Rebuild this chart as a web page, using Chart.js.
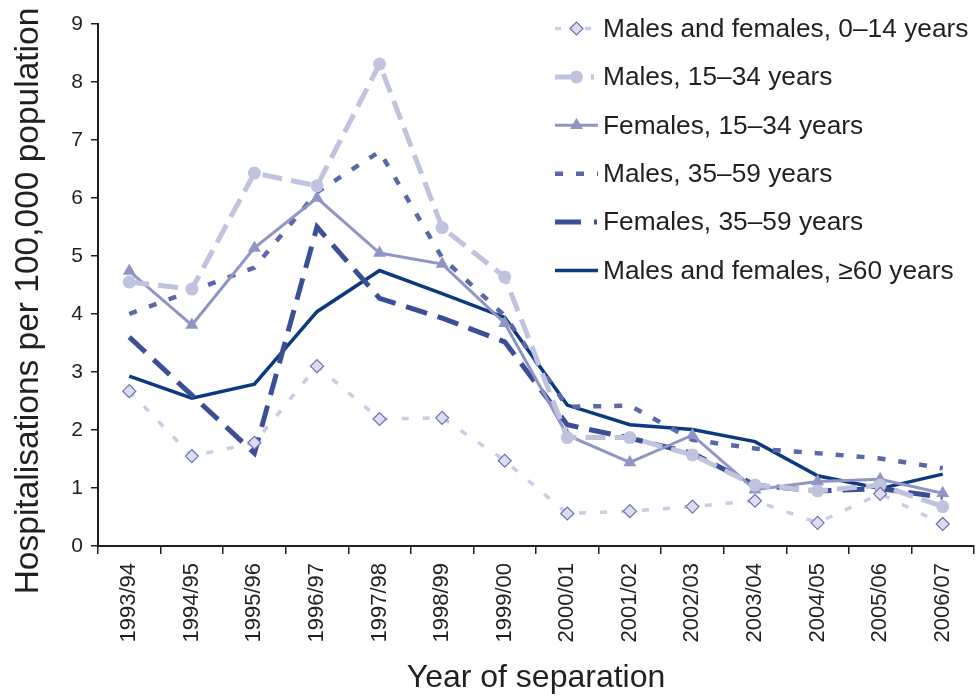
<!DOCTYPE html>
<html>
<head>
<meta charset="utf-8">
<script src="https://cdn.jsdelivr.net/npm/chart.js@4.4.1/dist/chart.umd.min.js"></script>
<style>
  html, body { margin: 0; padding: 0; background: #ffffff; }
  #wrap { width: 976px; height: 697px; position: relative; }
</style>
</head>
<body>
<div id="wrap"><canvas id="c" width="976" height="697"></canvas></div>
<script>
const categories = ['1993/94','1994/95','1995/96','1996/97','1997/98','1998/99','1999/00','2000/01','2001/02','2002/03','2003/04','2004/05','2005/06','2006/07'];
const seriesNames = ['Males and females, 0\u201314 years','Males, 15\u201334 years','Females, 15\u201334 years','Males, 35\u201359 years','Females, 35\u201359 years','Males and females, \u226560 years'];
const mf0to14  = [2.67, 1.55, 1.78, 3.10, 2.19, 2.21, 1.47, 0.56, 0.60, 0.68, 0.78, 0.40, 0.90, 0.38];
const m15to34  = [4.55, 4.43, 6.43, 6.21, 8.31, 5.49, 4.64, 1.87, 1.87, 1.57, 1.05, 0.95, 1.05, 0.68];
const f15to34  = [4.74, 3.81, 5.14, 6.00, 5.05, 4.86, 3.84, 1.91, 1.44, 1.91, 0.97, 1.11, 1.15, 0.91];
const m35to59  = [4.00, 4.40, 4.80, 6.10, 6.80, 4.97, 3.97, 2.40, 2.42, 1.83, 1.68, 1.60, 1.51, 1.34];
const f35to59  = [3.60, 2.60, 1.60, 5.50, 4.27, 3.93, 3.52, 2.09, 1.86, 1.60, 1.05, 0.95, 0.99, 0.84];
const mf60plus = [2.93, 2.55, 2.79, 4.04, 4.75, 4.35, 3.94, 2.43, 2.09, 2.01, 1.80, 1.21, 0.99, 1.24];
const yTicks = [0,1,2,3,4,5,6,7,8,9];
const yTitle = 'Hospitalisations per 100,000 population';
const xTitle = 'Year of separation';

const FONT = '"Liberation Sans", Arial, Helvetica, sans-serif';
const INK = '#231f20';

const datasets = [
  { label: seriesNames[0], data: mf0to14, borderColor: '#c9cce4', borderWidth: 3.5, borderDash: [7, 14],
    pointStyle: 'rectRot', pointRadius: 6.5, pointBackgroundColor: '#dcdeef', pointBorderColor: '#6b72b0', pointBorderWidth: 1.2,
    legendDash: [6, 9] },
  { label: seriesNames[1], data: m15to34, borderColor: '#bfc3de', borderWidth: 5, borderDash: [20, 9],
    pointStyle: 'circle', pointRadius: 6.5, pointBackgroundColor: '#bfc3de', pointBorderColor: '#bfc3de', pointBorderWidth: 0,
    legendDash: [22, 14, 3, 50] },
  { label: seriesNames[2], data: f15to34, borderColor: '#8f96c3', borderWidth: 3, borderDash: [],
    pointStyle: 'triangle', pointRadius: 7.5, pointBackgroundColor: '#8f96c3', pointBorderColor: '#8f96c3', pointBorderWidth: 0,
    legendDash: [] },
  { label: seriesNames[3], data: m35to59, borderColor: '#5b67a9', borderWidth: 4.5, borderDash: [8, 13],
    pointStyle: false, pointRadius: 0, legendDash: [8, 13] },
  { label: seriesNames[4], data: f35to59, borderColor: '#3b4f97', borderWidth: 5, borderDash: [22, 11],
    pointStyle: false, pointRadius: 0, legendDash: [26, 13, 3, 50] },
  { label: seriesNames[5], data: mf60plus, borderColor: '#0b3a7f', borderWidth: 3.5, borderDash: [],
    pointStyle: false, pointRadius: 0, legendDash: [] }
].map(d => Object.assign({ fill: false, tension: 0, borderCapStyle: 'butt', borderJoinStyle: 'miter', clip: 10 }, d));

const legendPlugin = {
  id: 'customLegend',
  afterDraw(chart) {
    const ctx = chart.ctx;
    const x0 = 555, x1 = 598, tx = 603, y0 = 28.5, dy = 48.4;
    chart.data.datasets.forEach((ds, i) => {
      const y = y0 + i * dy;
      ctx.save();
      ctx.strokeStyle = ds.borderColor;
      ctx.lineWidth = ds.borderWidth;
      ctx.setLineDash(ds.legendDash || []);
      ctx.beginPath();
      ctx.moveTo(x0, y);
      ctx.lineTo(x1, y);
      ctx.stroke();
      ctx.setLineDash([]);
      if (ds.pointStyle) {
        ctx.fillStyle = ds.pointBackgroundColor;
        ctx.strokeStyle = ds.pointBorderColor;
        ctx.lineWidth = ds.pointBorderWidth || 0;
        Chart.helpers.drawPoint(ctx, { pointStyle: ds.pointStyle, radius: ds.pointRadius, rotation: 0, borderWidth: ds.pointBorderWidth || 0 }, (x0 + x1) / 2, y);
      }
      ctx.fillStyle = INK;
      ctx.font = '26.3px ' + FONT;
      ctx.textBaseline = 'middle';
      ctx.textAlign = 'left';
      ctx.fillText(ds.label, tx, y + 1);
      ctx.restore();
    });
    // Y axis title
    ctx.save();
    ctx.fillStyle = INK;
    ctx.font = '33.5px ' + FONT;
    ctx.textAlign = 'center';
    ctx.textBaseline = 'middle';
    ctx.translate(29, 301);
    ctx.rotate(-Math.PI / 2);
    ctx.fillText(yTitle, 0, 0);
    ctx.restore();
  }
};

new Chart(document.getElementById('c'), {
  type: 'line',
  data: { labels: categories, datasets },
  plugins: [legendPlugin],
  options: {
    responsive: false,
    animation: false,
    devicePixelRatio: 1,
    layout: { autoPadding: false, padding: { top: 24, right: 2, left: 0, bottom: 0 } },
    plugins: { legend: { display: false }, tooltip: { enabled: false } },
    scales: {
      x: {
        type: 'category',
        offset: true,
        grid: { display: true, drawOnChartArea: false, drawTicks: true, offset: true, tickLength: 8, color: INK, lineWidth: 1.5 },
        border: { display: true, color: INK, width: 2 },
        ticks: { color: INK, font: { family: FONT, size: 22 }, maxRotation: 90, minRotation: 90, padding: 9, autoSkip: false },
        title: { display: true, text: xTitle, color: INK, font: { family: FONT, size: 32 }, padding: { top: 0, bottom: 0 } },
        afterFit(scale) { scale.height = 151; scale.paddingLeft = 0; scale.paddingRight = 0; }
      },
      y: {
        min: 0, max: 9,
        afterBuildTicks(scale) { scale.ticks = yTicks.map(v => ({ value: v })); },
        grid: { display: true, drawOnChartArea: false, drawTicks: true, tickLength: 7, color: INK, lineWidth: 1.5 },
        border: { display: true, color: INK, width: 2 },
        ticks: { color: INK, font: { family: FONT, size: 21 }, padding: 8 },
        title: { display: false },
        afterFit(scale) { scale.width = 98; }
      }
    }
  }
});
</script>
</body>
</html>
